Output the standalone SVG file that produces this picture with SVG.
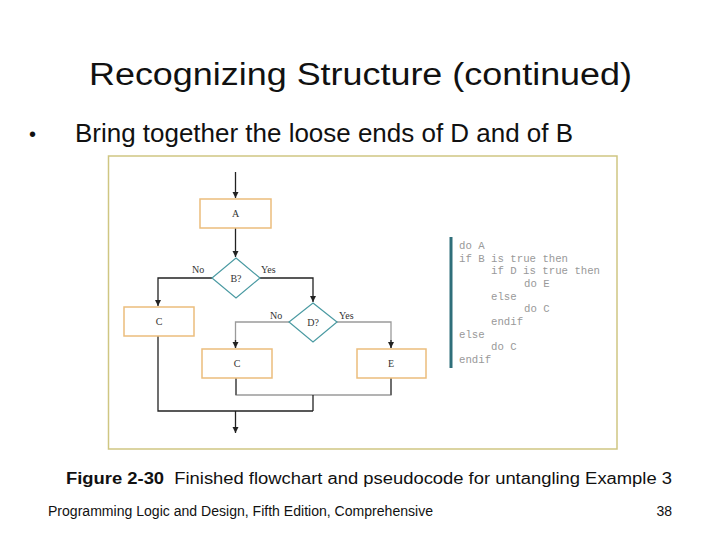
<svg xmlns="http://www.w3.org/2000/svg" width="720" height="540" viewBox="0 0 720 540">
<style>
.box{fill:#fff;stroke:#ebbd7c;stroke-width:1.5}
.dia{fill:#fff;stroke:#4a9aa2;stroke-width:1.2}
.lbl{font-family:"Liberation Serif",serif;font-size:10px;fill:#333;text-anchor:middle}
.yn{font-family:"Liberation Serif",serif;font-size:10px;fill:#333}
.blk{fill:none;stroke:#222;stroke-width:1.3}
.gry{fill:none;stroke:#9a9a9a;stroke-width:1.3}
.code{font-family:"Liberation Mono",monospace;font-size:10.7px;fill:#999}
.sans{font-family:"Liberation Sans",Arial,sans-serif;fill:#111}
</style>
<defs>
<marker id="ah" viewBox="0 0 10 10" refX="10" refY="5" markerWidth="6" markerHeight="7" markerUnits="userSpaceOnUse" orient="auto">
<path d="M0,0 L10,5 L0,10 z" fill="#222"/>
</marker>
</defs>
<rect width="720" height="540" fill="#fff"/>
<text class="sans" x="89" y="85" font-size="31" textLength="543" lengthAdjust="spacingAndGlyphs">Recognizing Structure (continued)</text>
<text class="sans" x="29" y="141" font-size="20">•</text>
<text class="sans" x="75" y="142" font-size="25" textLength="498" lengthAdjust="spacingAndGlyphs">Bring together the loose ends of D and of B</text>
<rect x="108.5" y="156" width="508.5" height="293" fill="#fff" stroke="#cfc682" stroke-width="1.5"/>
<g id="connectors">
<line class="blk" x1="235.5" y1="172" x2="235.5" y2="198" marker-end="url(#ah)"/>
<line class="blk" x1="235.5" y1="228" x2="235.5" y2="257" marker-end="url(#ah)"/>
<polyline class="blk" points="212,278 158,278 158,306" marker-end="url(#ah)"/>
<polyline class="blk" points="260,278 313,278 313,302" marker-end="url(#ah)"/>
<polyline class="gry" points="290,322 235.5,322 235.5,348"/>
<line class="blk" x1="235.5" y1="340" x2="235.5" y2="348" marker-end="url(#ah)"/>
<polyline class="gry" points="337,322 391,322 391,348"/>
<line class="blk" x1="391" y1="340" x2="391" y2="348" marker-end="url(#ah)"/>
<polyline class="gry" points="236,378 236,395 391,395 391,378"/>
<line x1="236" y1="378" x2="236" y2="395" stroke="#555" stroke-width="1.5"/>
<line x1="391" y1="378" x2="391" y2="395" stroke="#555" stroke-width="1.5"/>
<polyline class="blk" points="313,395 313,411"/>
<polyline class="blk" points="158,336 158,411 313,411"/>
<line class="blk" x1="235.5" y1="411" x2="235.5" y2="433" marker-end="url(#ah)"/>
<text class="yn" x="192" y="273">No</text>
<text class="yn" x="261" y="273">Yes</text>
<text class="yn" x="270" y="319">No</text>
<text class="yn" x="339" y="319">Yes</text>
</g>
<g id="A"><rect class="box" x="200" y="199" width="71" height="29"/><text class="lbl" x="235.5" y="217">A</text></g>
<g id="B"><polygon class="dia" points="236,258 260,278 236,298 212,278"/><text class="lbl" x="236" y="282">B?</text></g>
<g id="C1"><rect class="box" x="124" y="307" width="70" height="29"/><text class="lbl" x="159" y="325">C</text></g>
<g id="D"><polygon class="dia" points="313,303 337,322 313,342 289,322"/><text class="lbl" x="313" y="326">D?</text></g>
<g id="C2"><rect class="box" x="202" y="349" width="70" height="29"/><text class="lbl" x="237" y="367">C</text></g>
<g id="E"><rect class="box" x="357" y="349" width="69" height="29"/><text class="lbl" x="391" y="367">E</text></g>
<g id="pseudocode">
<line x1="451" y1="237" x2="451" y2="368" stroke="#2f6f7a" stroke-width="3"/>
<text class="code" x="459" y="249">do A</text>
<text class="code" x="459" y="262">if B is true then</text>
<text class="code" x="491" y="274">if D is true then</text>
<text class="code" x="524" y="287">do E</text>
<text class="code" x="491" y="300">else</text>
<text class="code" x="524" y="312">do C</text>
<text class="code" x="491" y="325">endif</text>
<text class="code" x="459" y="338">else</text>
<text class="code" x="491" y="350">do C</text>
<text class="code" x="459" y="363">endif</text>
</g>
<text class="sans" x="66" y="484" font-size="16" textLength="606" lengthAdjust="spacingAndGlyphs" xml:space="preserve"><tspan font-weight="bold">Figure 2-30</tspan>  Finished flowchart and pseudocode for untangling Example 3</text>
<text class="sans" x="48" y="516" font-size="14" textLength="385" lengthAdjust="spacingAndGlyphs" fill="#222">Programming Logic and Design, Fifth Edition, Comprehensive</text>
<text class="sans" x="672" y="516" font-size="14" text-anchor="end" fill="#222">38</text>
</svg>
